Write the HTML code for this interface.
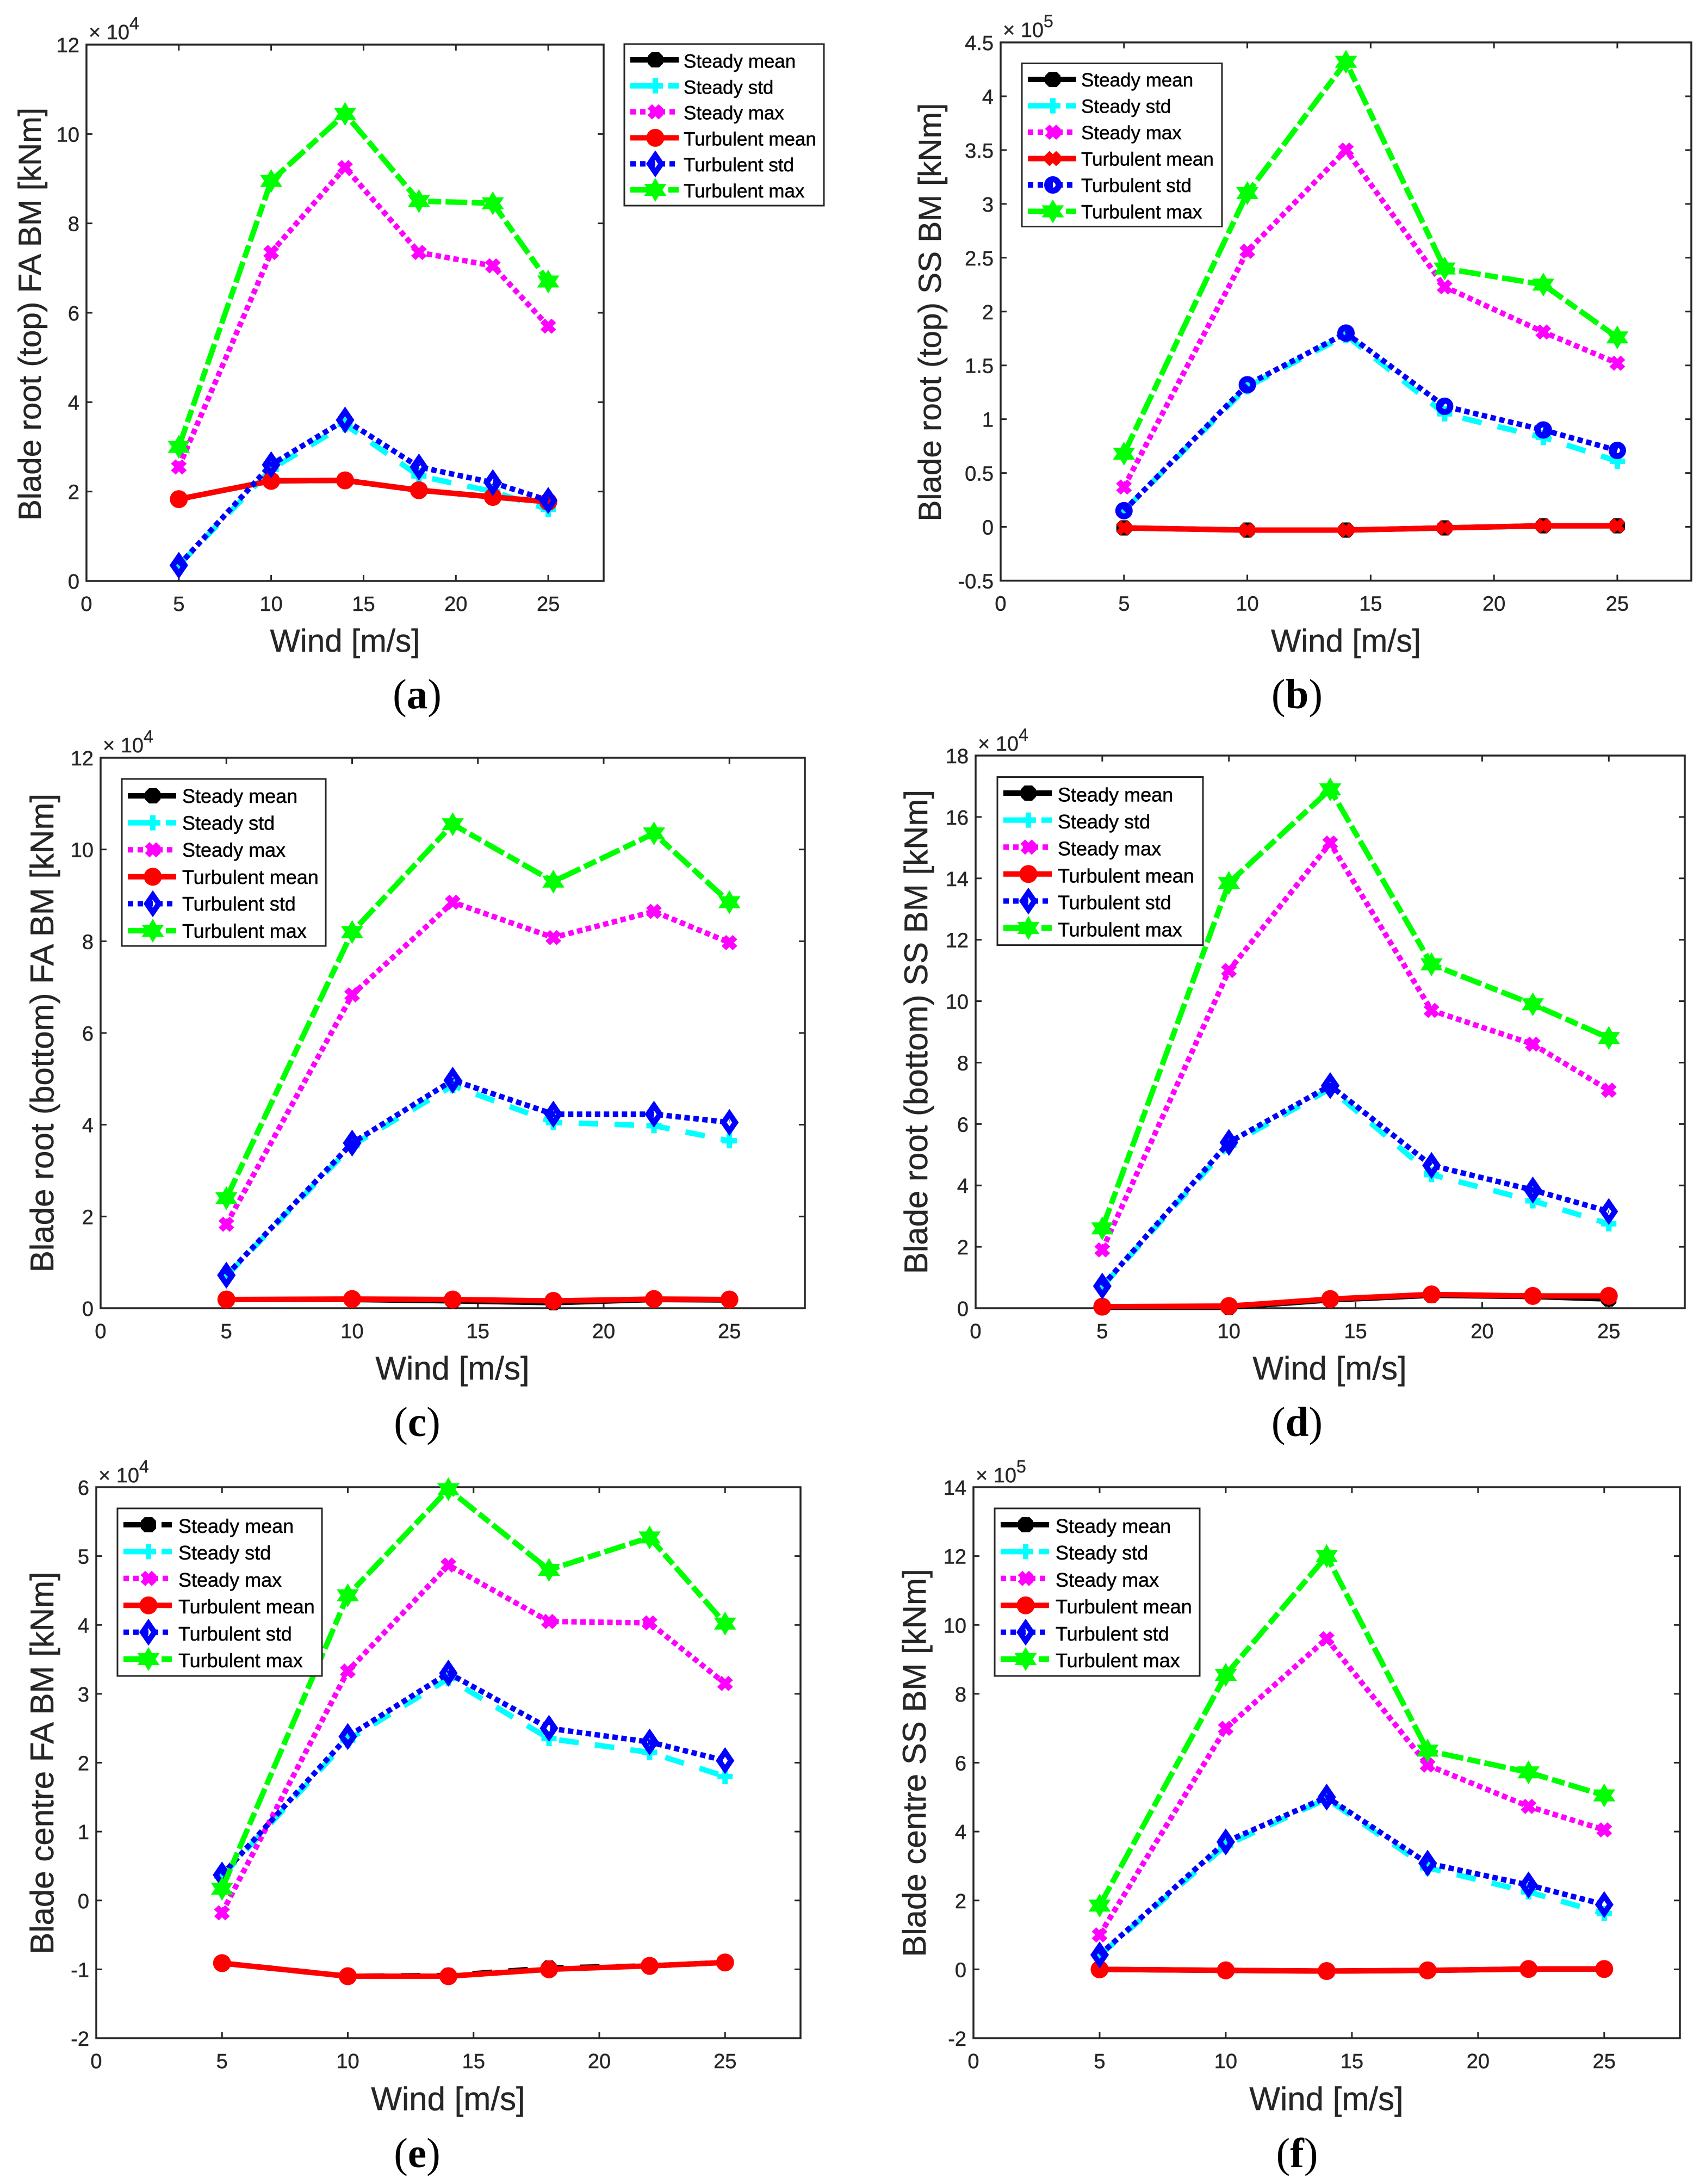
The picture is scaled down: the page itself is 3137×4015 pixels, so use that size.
<!DOCTYPE html>
<html lang="en">
<head>
<meta charset="utf-8">
<title>Blade bending moment charts</title>
<style>
html,body{margin:0;padding:0;background:#fff;}
svg{display:block;font-family:"Liberation Sans",Arial,sans-serif;}
.axis-title{font-size:58.4px;fill:#262626;stroke:#262626;stroke-width:.5px;}
#panel-c .axis-title,#panel-d .axis-title,#panel-e .axis-title,#panel-f .axis-title{font-size:60px;}
.tick-text{font-size:38px;fill:#262626;stroke:#262626;stroke-width:.5px;}
.legend-text{font-size:35px;fill:#000;stroke:#000;stroke-width:.5px;}
#panel-c .legend-text,#panel-d .legend-text,#panel-e .legend-text,#panel-f .legend-text{font-size:36px;}
.legend-box{fill:#fff;stroke:#262626;stroke-width:3px;}
.caption{font-family:"Liberation Serif",serif;font-size:77px;fill:#000;}
.caption tspan{font-weight:bold;}
.exp{fill:#262626;font-size:38px;stroke:#262626;stroke-width:.4px;}
.exp-sup{fill:#262626;font-size:32px;stroke:#262626;stroke-width:.4px;}
</style>
</head>
<body>
<svg id="figure" width="3137" height="4015" viewBox="0 0 3137 4015" xmlns="http://www.w3.org/2000/svg">
<rect width="3137" height="4015" fill="#fff"/>

<!-- Panel a -->
<g id="panel-a">
  <g id="axes-a"></g>
  <g id="marks-a"></g>
  <text class="axis-title" x="634.5" y="1198" text-anchor="middle">Wind [m/s]</text>
  <text class="axis-title" transform="translate(75,577.5) rotate(-90)" text-anchor="middle">Blade root (top) FA BM [kNm]</text>
  <text x="163" y="72"><tspan class="exp">× 10</tspan><tspan class="exp-sup" dy="-18">4</tspan></text>
  <g>
    <rect class="legend-box" x="1148" y="81" width="367" height="297"/>
    <g id="legend-a"></g>
    <text class="legend-text" x="1257" y="124.5">Steady mean</text>
    <text class="legend-text" x="1257" y="172.5">Steady std</text>
    <text class="legend-text" x="1257" y="219.5">Steady max</text>
    <text class="legend-text" x="1257" y="267.5">Turbulent mean</text>
    <text class="legend-text" x="1257" y="315">Turbulent std</text>
    <text class="legend-text" x="1257" y="363">Turbulent max</text>
  </g>
  <text class="caption" x="767" y="1302" text-anchor="middle">(<tspan>a</tspan>)</text>
</g>

<!-- Panel b -->
<g id="panel-b">
  <g id="axes-b"></g>
  <g id="marks-b"></g>
  <text class="axis-title" x="2475" y="1198" text-anchor="middle">Wind [m/s]</text>
  <text class="axis-title" transform="translate(1730,574) rotate(-90)" text-anchor="middle">Blade root (top) SS BM [kNm]</text>
  <text x="1844" y="68"><tspan class="exp">× 10</tspan><tspan class="exp-sup" dy="-18">5</tspan></text>
  <g>
    <rect class="legend-box" x="1879" y="116.5" width="368" height="300"/>
    <g id="legend-b"></g>
    <text class="legend-text" x="1988" y="159">Steady mean</text>
    <text class="legend-text" x="1988" y="207.5">Steady std</text>
    <text class="legend-text" x="1988" y="256">Steady max</text>
    <text class="legend-text" x="1988" y="304.5">Turbulent mean</text>
    <text class="legend-text" x="1988" y="353">Turbulent std</text>
    <text class="legend-text" x="1988" y="401.5">Turbulent max</text>
  </g>
  <text class="caption" x="2385" y="1302" text-anchor="middle">(<tspan>b</tspan>)</text>
</g>

<!-- Panel c -->
<g id="panel-c">
  <g id="axes-c"></g>
  <g id="marks-c"></g>
  <text class="axis-title" x="832" y="2536" text-anchor="middle">Wind [m/s]</text>
  <text class="axis-title" transform="translate(98,1899) rotate(-90)" text-anchor="middle">Blade root (bottom) FA BM [kNm]</text>
  <text x="189" y="1383"><tspan class="exp">× 10</tspan><tspan class="exp-sup" dy="-18">4</tspan></text>
  <g>
    <rect class="legend-box" x="224" y="1432" width="375" height="307"/>
    <g id="legend-c"></g>
    <text class="legend-text" x="335" y="1476">Steady mean</text>
    <text class="legend-text" x="335" y="1525.6">Steady std</text>
    <text class="legend-text" x="335" y="1575">Steady max</text>
    <text class="legend-text" x="335" y="1625">Turbulent mean</text>
    <text class="legend-text" x="335" y="1674">Turbulent std</text>
    <text class="legend-text" x="335" y="1724">Turbulent max</text>
  </g>
  <text class="caption" x="767" y="2640" text-anchor="middle">(<tspan>c</tspan>)</text>
</g>

<!-- Panel d -->
<g id="panel-d">
  <g id="axes-d"></g>
  <g id="marks-d"></g>
  <text class="axis-title" x="2445" y="2536" text-anchor="middle">Wind [m/s]</text>
  <text class="axis-title" transform="translate(1705,1897) rotate(-90)" text-anchor="middle">Blade root (bottom) SS BM [kNm]</text>
  <text x="1798" y="1380"><tspan class="exp">× 10</tspan><tspan class="exp-sup" dy="-18">4</tspan></text>
  <g>
    <rect class="legend-box" x="1834" y="1428.5" width="378" height="309"/>
    <g id="legend-d"></g>
    <text class="legend-text" x="1945" y="1473.5">Steady mean</text>
    <text class="legend-text" x="1945" y="1523">Steady std</text>
    <text class="legend-text" x="1945" y="1572.5">Steady max</text>
    <text class="legend-text" x="1945" y="1622.5">Turbulent mean</text>
    <text class="legend-text" x="1945" y="1671.5">Turbulent std</text>
    <text class="legend-text" x="1945" y="1721.5">Turbulent max</text>
  </g>
  <text class="caption" x="2385" y="2640" text-anchor="middle">(<tspan>d</tspan>)</text>
</g>

<!-- Panel e -->
<g id="panel-e">
  <g id="axes-e"></g>
  <g id="marks-e"></g>
  <text class="axis-title" x="824" y="3879" text-anchor="middle">Wind [m/s]</text>
  <text class="axis-title" transform="translate(98,3241) rotate(-90)" text-anchor="middle">Blade centre FA BM [kNm]</text>
  <text x="181" y="2725"><tspan class="exp">× 10</tspan><tspan class="exp-sup" dy="-18">4</tspan></text>
  <g>
    <rect class="legend-box" x="216" y="2773" width="376" height="308"/>
    <g id="legend-e"></g>
    <text class="legend-text" x="328" y="2818">Steady mean</text>
    <text class="legend-text" x="328" y="2867">Steady std</text>
    <text class="legend-text" x="328" y="2917">Steady max</text>
    <text class="legend-text" x="328" y="2966">Turbulent mean</text>
    <text class="legend-text" x="328" y="3016">Turbulent std</text>
    <text class="legend-text" x="328" y="3065">Turbulent max</text>
  </g>
  <text class="caption" x="767" y="3984" text-anchor="middle">(<tspan>e</tspan>)</text>
</g>

<!-- Panel f -->
<g id="panel-f">
  <g id="axes-f"></g>
  <g id="marks-f"></g>
  <text class="axis-title" x="2439" y="3879" text-anchor="middle">Wind [m/s]</text>
  <text class="axis-title" transform="translate(1702,3241) rotate(-90)" text-anchor="middle">Blade centre SS BM [kNm]</text>
  <text x="1794" y="2725"><tspan class="exp">× 10</tspan><tspan class="exp-sup" dy="-18">5</tspan></text>
  <g>
    <rect class="legend-box" x="1829" y="2773" width="377" height="308"/>
    <g id="legend-f"></g>
    <text class="legend-text" x="1941" y="2818">Steady mean</text>
    <text class="legend-text" x="1941" y="2867">Steady std</text>
    <text class="legend-text" x="1941" y="2917">Steady max</text>
    <text class="legend-text" x="1941" y="2966">Turbulent mean</text>
    <text class="legend-text" x="1941" y="3016">Turbulent std</text>
    <text class="legend-text" x="1941" y="3065">Turbulent max</text>
  </g>
  <text class="caption" x="2385" y="3984" text-anchor="middle">(<tspan>f</tspan>)</text>
</g>
</svg>

<script>
// ---- Data (values in the units printed on each axis) ----
const windSpeeds = [5, 10, 14, 18, 22, 25];
const xTicks = [0, 5, 10, 15, 20, 25];

const aSteadyMean = [1.83, 2.24, 2.25, 2.03, 1.88, 1.77];
const aSteadyStd  = [0.35, 2.5, 3.5, 2.35, 2.0, 1.6];
const aSteadyMax  = [2.55, 7.35, 9.25, 7.35, 7.05, 5.7];
const aTurbMean   = [1.83, 2.24, 2.25, 2.03, 1.88, 1.77];
const aTurbStd    = [0.35, 2.6, 3.6, 2.55, 2.2, 1.8];
const aTurbMax    = [3.0, 8.95, 10.45, 8.5, 8.45, 6.7];
const aYTicks     = [0, 2, 4, 6, 8, 10, 12];

const bSteadyMean = [-0.01, -0.03, -0.03, -0.01, 0.01, 0.01];
const bSteadyStd  = [0.15, 1.3, 1.78, 1.05, 0.83, 0.61];
const bSteadyMax  = [0.37, 2.56, 3.5, 2.23, 1.81, 1.52];
const bTurbMean   = [-0.01, -0.03, -0.03, -0.01, 0.01, 0.01];
const bTurbStd    = [0.15, 1.32, 1.8, 1.12, 0.9, 0.71];
const bTurbMax    = [0.68, 3.1, 4.32, 2.4, 2.25, 1.76];
const bYTicks     = [-0.5, 0, 0.5, 1, 1.5, 2, 2.5, 3, 3.5, 4, 4.5];

const cSteadyMean = [0.19, 0.19, 0.16, 0.12, 0.19, 0.18];
const cSteadyStd  = [0.7, 3.55, 4.85, 4.05, 3.98, 3.65];
const cSteadyMax  = [1.83, 6.83, 8.85, 8.08, 8.65, 7.97];
const cTurbMean   = [0.19, 0.2, 0.19, 0.16, 0.2, 0.19];
const cTurbStd    = [0.72, 3.6, 4.97, 4.23, 4.23, 4.05];
const cTurbMax    = [2.4, 8.2, 10.55, 9.3, 10.35, 8.85];
const cYTicks     = [0, 2, 4, 6, 8, 10, 12];

const dSteadyMean = [0.03, 0.03, 0.27, 0.42, 0.38, 0.3];
const dSteadyStd  = [0.7, 5.3, 7.15, 4.35, 3.5, 2.75];
const dSteadyMax  = [1.9, 11.0, 15.15, 9.7, 8.6, 7.1];
const dTurbMean   = [0.05, 0.07, 0.3, 0.45, 0.4, 0.4];
const dTurbStd    = [0.72, 5.4, 7.25, 4.65, 3.85, 3.15];
const dTurbMax    = [2.6, 13.85, 16.9, 11.2, 9.9, 8.8];
const dYTicks     = [0, 2, 4, 6, 8, 10, 12, 14, 16, 18];

const eSteadyMean = [-0.91, -1.1, -1.09, -0.98, -0.95, -0.9];
const eSteadyStd  = [0.35, 2.33, 3.22, 2.35, 2.15, 1.8];
const eSteadyMax  = [-0.18, 3.33, 4.87, 4.05, 4.03, 3.15];
const eTurbMean   = [-0.91, -1.1, -1.1, -1.0, -0.95, -0.9];
const eTurbStd    = [0.37, 2.38, 3.3, 2.5, 2.3, 2.03];
const eTurbMax    = [0.17, 4.43, 5.97, 4.8, 5.27, 4.02];
const eYTicks     = [-2, -1, 0, 1, 2, 3, 4, 5, 6];

const fSteadyMean = [0, -0.03, -0.05, -0.03, 0.01, 0.01];
const fSteadyStd  = [0.4, 3.6, 4.95, 2.95, 2.25, 1.62];
const fSteadyMax  = [1.0, 7.0, 9.6, 5.93, 4.73, 4.05];
const fTurbMean   = [0, -0.03, -0.05, -0.03, 0.01, 0.01];
const fTurbStd    = [0.42, 3.7, 5.0, 3.08, 2.45, 1.88];
const fTurbMax    = [1.85, 8.55, 12.0, 6.35, 5.72, 5.05];
const fYTicks     = [-2, 0, 2, 4, 6, 8, 10, 12, 14];

// ---- Styling and layout ----
const NS = 'http://www.w3.org/2000/svg';
const INK = '#262626';
const LINE_W = 10;
const DASH_CYAN = '36 30';
const DASH_GREEN = '40 8 24 8';
const DASH_BLACK = '36 30';
const DOTTED = '10 6.5';
const LEGEND_DASHED = '59 11';
const LEGEND_DOTTED = '10 8';
const X_MAX = 28;

const MARKER_PATHS = {
  hex: 'M-7,-14L7,-14L14,-7L14,7L7,14L-7,14L-14,7L-14,-7Z',
  plus: 'M-5,-14H5V-5H14V5H5V14H-5V5H-14V-5H-5Z',
  cross: 'M-6,-14L0,-8L6,-14L14.5,-6L8,0L14.5,6L6,14L0,8L-6,14L-14.5,6L-8,0L-14.5,-6Z',
  star: 'M0,-22L6.35,-11L20.5,-11L13,0L20.5,11L6.35,11L0,22L-6.35,11L-20.5,11L-13,0L-20.5,-11L-6.35,-11Z'
};

function makeMarker(kind, color) {
  let el;
  if (kind === 'circle') {
    el = document.createElementNS(NS, 'circle');
    el.setAttribute('r', 16.5);
    el.setAttribute('fill', color);
  } else if (kind === 'ring') {
    el = document.createElementNS(NS, 'circle');
    el.setAttribute('r', 10.5);
    el.setAttribute('fill', 'none');
    el.setAttribute('stroke', color);
    el.setAttribute('stroke-width', 11);
  } else if (kind === 'diamond') {
    el = document.createElementNS(NS, 'path');
    el.setAttribute('d', 'M0,-16L11,0L0,16L-11,0Z');
    el.setAttribute('fill', 'none');
    el.setAttribute('stroke', color);
    el.setAttribute('stroke-width', 10);
    el.setAttribute('stroke-miterlimit', 6);
  } else {
    el = document.createElementNS(NS, 'path');
    el.setAttribute('d', MARKER_PATHS[kind]);
    el.setAttribute('fill', color);
  }
  return el;
}

function placeMarker(el, x, y) {
  el.setAttribute('transform', 'translate(' + x + ',' + y + ')');
}

function makeSeries(name, color, dash, legendDash, marker, values) {
  return { name: name, color: color, dash: dash, legendDash: legendDash, marker: marker, values: values };
}

const panels = [
  { key: 'a', left: 159, right: 1110, top: 82, bottom: 1068, yMin: 0, yMax: 12, yTicks: aYTicks,
    legend: { left: 1148, first: 110, step: 47.8 },
    series: [
      makeSeries('steady-mean', '#000', null, null, 'hex', aSteadyMean),
      makeSeries('steady-std', '#00ffff', DASH_CYAN, LEGEND_DASHED, 'plus', aSteadyStd),
      makeSeries('steady-max', '#ff00ff', DOTTED, LEGEND_DOTTED, 'cross', aSteadyMax),
      makeSeries('turbulent-mean', '#ff0000', null, null, 'circle', aTurbMean),
      makeSeries('turbulent-std', '#0000ff', DOTTED, LEGEND_DOTTED, 'diamond', aTurbStd),
      makeSeries('turbulent-max', '#00ff00', DASH_GREEN, LEGEND_DASHED, 'star', aTurbMax)
    ] },
  { key: 'b', left: 1840, right: 3110, top: 78, bottom: 1067.5, yMin: -0.5, yMax: 4.5, yTicks: bYTicks,
    legend: { left: 1879, first: 146, step: 48.5 },
    series: [
      makeSeries('steady-mean', '#000', null, null, 'hex', bSteadyMean),
      makeSeries('steady-std', '#00ffff', DASH_CYAN, LEGEND_DASHED, 'plus', bSteadyStd),
      makeSeries('steady-max', '#ff00ff', DOTTED, LEGEND_DOTTED, 'cross', bSteadyMax),
      makeSeries('turbulent-mean', '#ff0000', null, null, 'cross', bTurbMean),
      makeSeries('turbulent-std', '#0000ff', DOTTED, LEGEND_DOTTED, 'ring', bTurbStd),
      makeSeries('turbulent-max', '#00ff00', DASH_GREEN, LEGEND_DASHED, 'star', bTurbMax)
    ] },
  { key: 'c', left: 185, right: 1480, top: 1393, bottom: 2405, yMin: 0, yMax: 12, yTicks: cYTicks,
    legend: { left: 224, first: 1463, step: 49.6 },
    series: [
      makeSeries('steady-mean', '#000', null, null, 'hex', cSteadyMean),
      makeSeries('steady-std', '#00ffff', DASH_CYAN, LEGEND_DASHED, 'plus', cSteadyStd),
      makeSeries('steady-max', '#ff00ff', DOTTED, LEGEND_DOTTED, 'cross', cSteadyMax),
      makeSeries('turbulent-mean', '#ff0000', null, null, 'circle', cTurbMean),
      makeSeries('turbulent-std', '#0000ff', DOTTED, LEGEND_DOTTED, 'diamond', cTurbStd),
      makeSeries('turbulent-max', '#00ff00', DASH_GREEN, LEGEND_DASHED, 'star', cTurbMax)
    ] },
  { key: 'd', left: 1794, right: 3098, top: 1389, bottom: 2405, yMin: 0, yMax: 18, yTicks: dYTicks,
    legend: { left: 1834, first: 1458, step: 49.6 },
    series: [
      makeSeries('steady-mean', '#000', null, null, 'hex', dSteadyMean),
      makeSeries('steady-std', '#00ffff', DASH_CYAN, LEGEND_DASHED, 'plus', dSteadyStd),
      makeSeries('steady-max', '#ff00ff', DOTTED, LEGEND_DOTTED, 'cross', dSteadyMax),
      makeSeries('turbulent-mean', '#ff0000', null, null, 'circle', dTurbMean),
      makeSeries('turbulent-std', '#0000ff', DOTTED, LEGEND_DOTTED, 'diamond', dTurbStd),
      makeSeries('turbulent-max', '#00ff00', DASH_GREEN, LEGEND_DASHED, 'star', dTurbMax)
    ] },
  { key: 'e', left: 177, right: 1472, top: 2734, bottom: 3747, yMin: -2, yMax: 6, yTicks: eYTicks,
    legend: { left: 216, first: 2803, step: 49.4 },
    series: [
      makeSeries('steady-mean', '#000', DASH_BLACK, LEGEND_DASHED, 'hex', eSteadyMean),
      makeSeries('steady-std', '#00ffff', DASH_CYAN, LEGEND_DASHED, 'plus', eSteadyStd),
      makeSeries('steady-max', '#ff00ff', DOTTED, LEGEND_DOTTED, 'cross', eSteadyMax),
      makeSeries('turbulent-mean', '#ff0000', null, null, 'circle', eTurbMean),
      makeSeries('turbulent-std', '#0000ff', DOTTED, LEGEND_DOTTED, 'diamond', eTurbStd),
      makeSeries('turbulent-max', '#00ff00', DASH_GREEN, LEGEND_DASHED, 'star', eTurbMax)
    ] },
  { key: 'f', left: 1790, right: 3089, top: 2734, bottom: 3747, yMin: -2, yMax: 14, yTicks: fYTicks,
    legend: { left: 1829, first: 2803, step: 49.4 },
    series: [
      makeSeries('steady-mean', '#000', null, null, 'hex', fSteadyMean),
      makeSeries('steady-std', '#00ffff', DASH_CYAN, LEGEND_DASHED, 'plus', fSteadyStd),
      makeSeries('steady-max', '#ff00ff', DOTTED, LEGEND_DOTTED, 'cross', fSteadyMax),
      makeSeries('turbulent-mean', '#ff0000', null, null, 'circle', fTurbMean),
      makeSeries('turbulent-std', '#0000ff', DOTTED, LEGEND_DOTTED, 'diamond', fTurbStd),
      makeSeries('turbulent-max', '#00ff00', DASH_GREEN, LEGEND_DASHED, 'star', fTurbMax)
    ] }
];

function drawAxes(p, scaleX, scaleY) {
  const g = document.getElementById('axes-' + p.key);
  const frame = document.createElementNS(NS, 'rect');
  frame.setAttribute('x', p.left);
  frame.setAttribute('y', p.top);
  frame.setAttribute('width', p.right - p.left);
  frame.setAttribute('height', p.bottom - p.top);
  frame.setAttribute('fill', '#fff');
  frame.setAttribute('stroke', INK);
  frame.setAttribute('stroke-width', 3.5);
  
  
  g.appendChild(frame);

  const tickPath = [];
  xTicks.forEach(function (t) {
    const x = scaleX(t);
    tickPath.push('M' + x + ',' + p.bottom + 'v-11');
    tickPath.push('M' + x + ',' + p.top + 'v11');
    const label = document.createElementNS(NS, 'text');
    label.setAttribute('class', 'tick-text');
    label.setAttribute('x', x);
    label.setAttribute('y', p.bottom + 55);
    label.setAttribute('text-anchor', 'middle');
    label.textContent = String(t);
    
    
    g.appendChild(label);
  });
  p.yTicks.forEach(function (t) {
    const y = scaleY(t);
    tickPath.push('M' + p.left + ',' + y + 'h11');
    tickPath.push('M' + p.right + ',' + y + 'h-11');
    const label = document.createElementNS(NS, 'text');
    label.setAttribute('class', 'tick-text');
    label.setAttribute('x', p.left - 13);
    label.setAttribute('y', y + 14);
    label.setAttribute('text-anchor', 'end');
    label.textContent = String(t);
    
    
    g.appendChild(label);
  });
  const ticks = document.createElementNS(NS, 'path');
  ticks.setAttribute('d', tickPath.join(''));
  ticks.setAttribute('stroke', INK);
  ticks.setAttribute('stroke-width', 3);
  ticks.setAttribute('fill', 'none');
  
  
  g.appendChild(ticks);
}

function drawSeries(p, scaleX, scaleY) {
  const g = document.getElementById('marks-' + p.key);
  p.series.forEach(function (s) {
    const line = document.createElementNS(NS, 'polyline');
    const pts = windSpeeds.map(function (w, i) {
      return scaleX(w) + ',' + scaleY(s.values[i]);
    });
    line.setAttribute('points', pts.join(' '));
    line.setAttribute('fill', 'none');
    line.setAttribute('stroke', s.color);
    line.setAttribute('stroke-width', LINE_W);
    line.setAttribute('stroke-linejoin', 'round');
    if (s.dash) line.setAttribute('stroke-dasharray', s.dash);
    
    
    g.appendChild(line);
    windSpeeds.forEach(function (w, i) {
      const m = makeMarker(s.marker, s.color);
      placeMarker(m, scaleX(w), scaleY(s.values[i]));
      
      
      g.appendChild(m);
    });
  });
}

function drawLegend(p) {
  const g = document.getElementById('legend-' + p.key);
  p.series.forEach(function (s, i) {
    const y = p.legend.first + i * p.legend.step;
    const x0 = p.legend.left + 11;
    const line = document.createElementNS(NS, 'line');
    line.setAttribute('x1', x0);
    line.setAttribute('x2', x0 + 89);
    line.setAttribute('y1', y);
    line.setAttribute('y2', y);
    line.setAttribute('stroke', s.color);
    line.setAttribute('stroke-width', LINE_W);
    if (s.legendDash) line.setAttribute('stroke-dasharray', s.legendDash);
    
    
    g.appendChild(line);
    const m = makeMarker(s.marker, s.color);
    placeMarker(m, x0 + 46, y);
    
    
    g.appendChild(m);
  });
}

panels.forEach(function (p) {
  const scaleX = function (v) { return p.left + (v / X_MAX) * (p.right - p.left); };
  const scaleY = function (v) { return p.bottom - ((v - p.yMin) / (p.yMax - p.yMin)) * (p.bottom - p.top); };
  drawAxes(p, scaleX, scaleY);
  drawSeries(p, scaleX, scaleY);
  drawLegend(p);
});
</script>
</body>
</html>
